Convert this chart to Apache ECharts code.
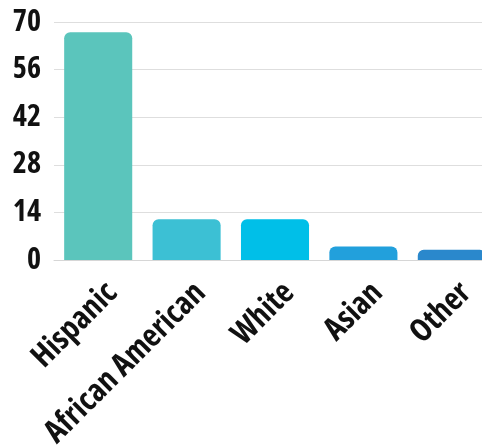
<!DOCTYPE html>
<html>
<head>
<meta charset="utf-8">
<script src="https://cdn.jsdelivr.net/npm/echarts@6/dist/echarts.min.js"></script>
<style>
  html, body { margin: 0; padding: 0; background: #ffffff; }
  #chart { width: 482px; height: 448px; }
</style>
</head>
<body>
<div id="chart"></div>
<script>
// Population share by group
const categories = ['Hispanic', 'African American', 'White', 'Asian', 'Other'];
const values = [67, 12, 12, 4, 3];
const barColors = ['#5bc5bc', '#3cc0d4', '#00bfe8', '#22a0dc', '#2a88cc'];
const yTicks = [0, 14, 28, 42, 56, 70];

const labelFont = '"Open Sans", sans-serif';

const chart = echarts.init(document.getElementById('chart'), null, { renderer: 'canvas' });
chart.setOption({
  animation: false,
  grid: { left: 54, right: -14, top: 22, bottom: 188, outerBoundsMode: 'none', containLabel: false },
  xAxis: {
    type: 'category',
    data: categories,
    axisLine: { show: true, lineStyle: { color: '#d6d6d6', width: 1 } },
    axisTick: { show: false },
    axisLabel: {
      rotate: 45,
      interval: 0,
      margin: 42,
      // nudge the slanted labels a little to the right of each bar
      padding: [25, -20, 0, 0],
      color: '#111111',
      fontFamily: labelFont,
      fontStyle: 'condensed',
      fontWeight: 'bold',
      fontSize: 32
    }
  },
  yAxis: {
    type: 'value',
    min: yTicks[0],
    max: yTicks[yTicks.length - 1],
    interval: yTicks[1] - yTicks[0],
    axisLine: { show: false },
    axisTick: { show: false },
    splitLine: { lineStyle: { color: '#dedede', width: 1 } },
    axisLabel: {
      margin: 13,
      color: '#111111',
      fontFamily: labelFont,
      fontStyle: 'condensed',
      fontWeight: 'bold',
      fontSize: 30
    }
  },
  series: [{
    type: 'bar',
    data: values.map((v, i) => ({ value: v, itemStyle: { color: barColors[i] } })),
    barCategoryGap: '23%',
    itemStyle: { borderRadius: [6, 6, 0, 0] }
  }]
});
</script>
</body>
</html>
